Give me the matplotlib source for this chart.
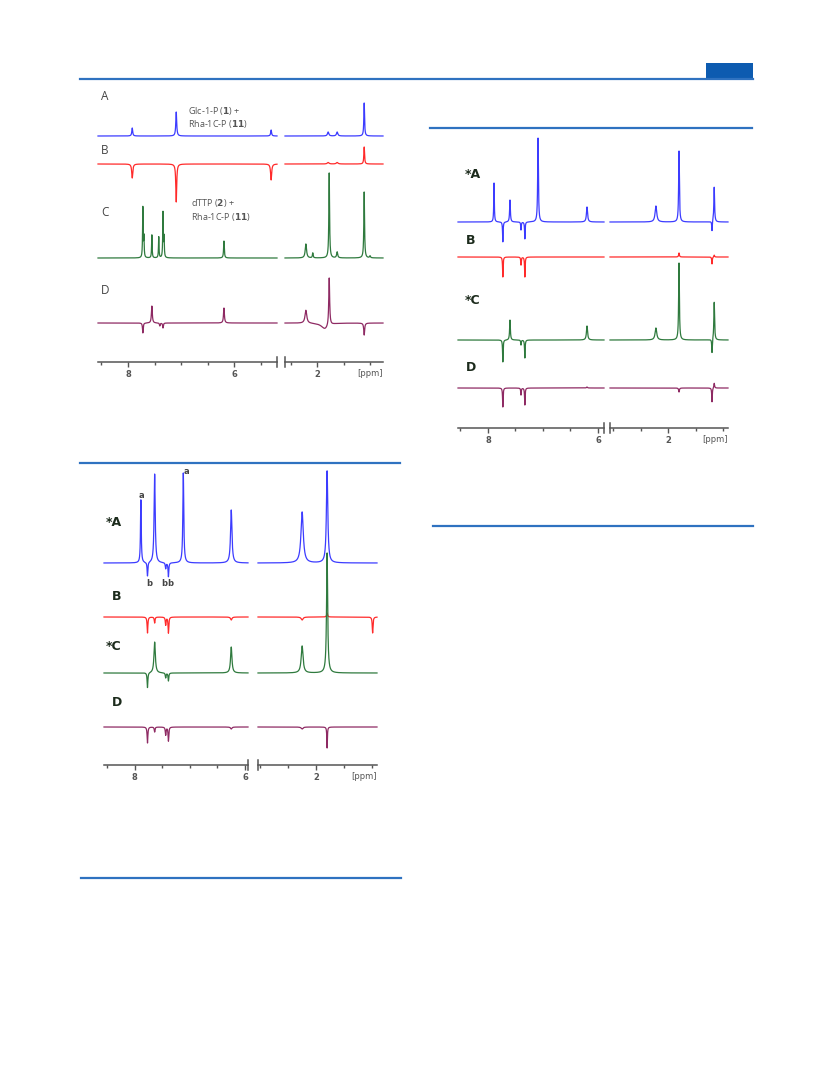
import numpy as np
import matplotlib
import matplotlib.pyplot as plt
from matplotlib.ticker import FixedLocator, MultipleLocator

matplotlib.use('Agg')

W, H = 833, 1091

# ---- peak tables (ppm, intensity in px, half width in ppm) ----
# panel 1 : Glc-1-P / dTTP + Rha-1C-P
p1_A = ([7.92, 7.09, 5.30, 1.79, 1.62, 1.11], [8, 24, 6, 4, 4, 33],
        [0.010, 0.010, 0.010, 0.015, 0.015, 0.008])
p1_B = ([7.92, 7.09, 5.30, 1.79, 1.62, 1.11], [-14, -38, -16, 1.5, 1.5, 17],
        [0.012, 0.010, 0.012, 0.02, 0.02, 0.008])
p1_C = ([7.72, 7.70, 7.55, 7.42, 7.34, 7.32, 6.19, 2.21, 2.08, 1.77, 1.62, 1.11, 1.00],
        [50, 20, 23, 21, 45, 20, 17, 14, 5, 85, 6, 66, 2],
        [0.006, 0.006, 0.006, 0.006, 0.006, 0.006, 0.008, 0.015, 0.008, 0.008, 0.012, 0.008, 0.01])
p1_D = ([7.72, 7.55, 7.40, 7.34, 6.19, 2.21, 1.85, 1.77, 1.11],
        [-10, 17, -3, -5, 15, 13, -6, 48, -12],
        [0.008, 0.01, 0.008, 0.008, 0.01, 0.02, 0.08, 0.01, 0.01])

# panel 2 : STD series, left column
p2_A = ([7.89, 7.77, 7.64, 7.44, 7.39, 7.12, 6.25, 2.25, 1.80],
        [63, -14, 89, -6, -14, 90, 53, 51, 92],
        [0.008, 0.008, 0.012, 0.008, 0.008, 0.010, 0.015, 0.025, 0.015])
p2_B = ([7.77, 7.64, 7.44, 7.39, 6.25, 2.25, 1.80, 0.98],
        [-16, -6, -8, -16, -3, -3, 4, -16],
        [0.008, 0.008, 0.008, 0.008, 0.015, 0.02, 0.01, 0.008])
p2_C = ([7.77, 7.64, 7.44, 7.39, 6.25, 2.25, 1.80],
        [-15, 31, -5, -8, 26, 27, 120],
        [0.008, 0.015, 0.008, 0.008, 0.015, 0.02, 0.012])
p2_D = ([7.77, 7.64, 7.44, 7.39, 6.25, 2.25, 1.80],
        [-16, -5, -8, -14, -2, -2, -21],
        [0.008, 0.008, 0.008, 0.008, 0.015, 0.02, 0.006])

# panel 3 : STD series, right column
p3_A = ([7.89, 7.73, 7.60, 7.40, 7.33, 7.09, 6.20, 2.22, 1.80, 1.20, 1.16],
        [39, -20, 22, -8, -17, 84, 15, 16, 71, -10, 35],
        [0.006, 0.006, 0.008, 0.006, 0.006, 0.008, 0.012, 0.018, 0.008, 0.006, 0.008])
p3_B = ([7.73, 7.40, 7.33, 1.80, 1.20, 1.16],
        [-20, -8, -20, 4, -7, 2],
        [0.006, 0.006, 0.006, 0.008, 0.006, 0.008])
p3_C = ([7.73, 7.60, 7.40, 7.33, 6.20, 2.22, 1.80, 1.20, 1.16],
        [-22, 20, -5, -18, 14, 12, 77, -14, 38],
        [0.006, 0.008, 0.006, 0.006, 0.012, 0.018, 0.008, 0.006, 0.008])
p3_D = ([7.73, 7.40, 7.33, 6.20, 1.80, 1.20, 1.16],
        [-19, -7, -17, 1, -4, -14, 5],
        [0.006, 0.006, 0.006, 0.01, 0.008, 0.006, 0.008])

trace_labels_1 = ['A', 'B', 'C', 'D']
trace_labels_2 = ['*A', 'B', '*C', 'D']

COLORS = ['#3c3cff', '#ff2a2a', '#2f7a3e', '#8e2a63']


def px_rect(x0, y0, x1, y1):
    return [x0 / W, 1 - y1 / H, (x1 - x0) / W, (y1 - y0) / H]


def spectrum(ppm, peaks):
    y = np.zeros_like(ppm)
    for c, h, w in zip(*peaks):
        y += h / (1 + ((ppm - c) / w) ** 2)
    return y


def draw_panel(fig, traces, baselines, segs, top, axis_y, tick_size=6):
    # segs: list of (x0_px, x1_px, ppm_left, ppm_right)
    for k, (x0, x1, pl, pr) in enumerate(segs):
        ax = fig.add_axes(px_rect(x0, top, x1, axis_y))
        ppm = np.linspace(pl, pr, 4000)
        for peaks, base, col in zip(traces, baselines, COLORS):
            ax.plot(ppm, base - spectrum(ppm, peaks), color=col, lw=0.9, clip_on=False)
        ax.set_xlim(pl, pr)
        ax.set_ylim(axis_y, top)
        for s in ['top', 'left', 'right']:
            ax.spines[s].set_visible(False)
        ax.spines['bottom'].set_color('#555555')
        ax.spines['bottom'].set_linewidth(1.1)
        ax.set_facecolor('none')
        ax.set_yticks([])
        majors = [v for v in (8, 6, 4, 2) if min(pl, pr) <= v <= max(pl, pr)]
        ax.xaxis.set_major_locator(FixedLocator(majors))
        ax.xaxis.set_minor_locator(MultipleLocator(0.5))
        ax.set_xticklabels([str(v) for v in majors], fontsize=tick_size,
                           fontweight='bold', color='#555555')
        ax.tick_params(axis='x', which='major', direction='out', length=3.5, width=1,
                       color='#555555', pad=2.5)
        ax.tick_params(axis='x', which='minor', direction='out', length=2.5, width=1,
                       color='#555555')
        # break bars
        xb = pr if k == 0 else pl
        ax.plot([xb, xb], [axis_y - 5, axis_y + 5], color='#555555', lw=1.1, clip_on=False)
        if k == len(segs) - 1:
            ax.text(1.0, -0.5 * 0 + 0, '[ppm]', transform=ax.transAxes, ha='right',
                    va='top', fontsize=6, color='#555555')
    return ax


def page_line(fig, x0, x1, y, lw=1.6):
    fig.add_artist(plt.Line2D([x0 / W, x1 / W], [1 - y / H, 1 - y / H],
                              color='#2f72c0', lw=lw))


def ftext(fig, x, y, s, **kw):
    fig.text(x / W, 1 - y / H, s, **kw)


def main():
    fig = plt.figure(figsize=(W / 100, H / 100), dpi=100)

    # page decorations
    page_line(fig, 80, 753, 78.5)
    fig.add_artist(plt.Rectangle((706 / W, 1 - 78 / H), 47 / W, 15 / H,
                                 color='#0d5bb0', lw=0))
    page_line(fig, 80, 400, 463)
    page_line(fig, 81, 401, 878)
    page_line(fig, 430, 752, 128)
    page_line(fig, 433, 753, 526)

    # ---- panel 1 ----
    ax = draw_panel(fig, [p1_A, p1_B, p1_C, p1_D], [136, 164, 258, 323],
                    [(98, 277, 8.566, 5.189), (285, 383, 2.604, 0.755)], 85, 362)
    ax.texts[-1].set_position((1.0, -0.025))
    for lab, y in zip(trace_labels_1, [96, 151, 212, 290]):
        ftext(fig, 101, y, lab, fontsize=8.5, color='#444444', va='center',
              family='Open Sans')
    ftext(fig, 188, 111, r'Glc-1-P ($\mathbf{1}$) +', fontsize=6.5, color='#555555',
          va='center', family='Open Sans')
    ftext(fig, 188, 123.5, r'Rha-1C-P ($\mathbf{11}$)', fontsize=6.5, color='#555555',
          va='center', family='Open Sans')
    ftext(fig, 191, 203, r'dTTP ($\mathbf{2}$) +', fontsize=6.5, color='#555555',
          va='center', family='Open Sans')
    ftext(fig, 191, 217, r'Rha-1C-P ($\mathbf{11}$)', fontsize=6.5, color='#555555',
          va='center', family='Open Sans')

    # ---- panel 2 ----
    ax = draw_panel(fig, [p2_A, p2_B, p2_C, p2_D], [563, 617, 673, 727],
                    [(104, 248, 8.559, 5.946), (258, 377, 3.045, 0.901)], 472, 765)
    ax.texts[-1].set_position((1.0, -0.025))
    for lab, x, y in zip(trace_labels_2, [106, 112, 106, 112], [522, 596, 647, 703]):
        ftext(fig, x, y, lab, fontsize=9, color='#1c2b1c', va='center',
              fontweight='bold')
    for s, x, y in [('a', 141, 496), ('a', 186, 472), ('b', 149, 584), ('b', 164, 584),
                    ('b', 170, 584)]:
        ftext(fig, x, y, s, fontsize=6, color='#444444', ha='center', va='center',
              fontweight='bold')

    # ---- panel 3 ----
    ax = draw_panel(fig, [p3_A, p3_B, p3_C, p3_D], [222, 257, 340, 388],
                    [(458, 604, 8.545, 5.891), (610, 728, 3.055, 0.909)], 135, 428)
    ax.texts[-1].set_position((1.0, -0.025))
    for lab, x, y in zip(trace_labels_2, [465, 466, 465, 466], [174, 241, 301, 368]):
        ftext(fig, x, y, lab, fontsize=9, color='#1c2b1c', va='center',
              fontweight='bold')

    fig.savefig('out.png', dpi=100)


if __name__ == '__main__':
    main()
